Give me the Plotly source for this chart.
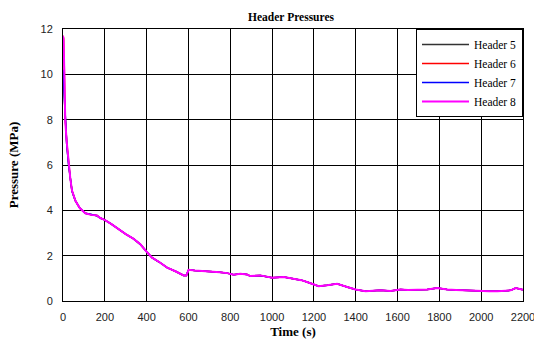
import plotly.graph_objects as go

# Time (s)
time_head = [0, 3, 6, 11, 18, 27, 35, 43, 59, 80, 107, 135, 163, 178, 199]
time_tail = [230, 274, 300, 338, 370, 402, 426, 460, 498, 540, 577, 590, 601, 630, 657,
             700, 750, 785, 816, 848, 880, 896, 944, 1000, 1056, 1103, 1140, 1167, 1200,
             1223, 1263, 1311, 1359, 1399, 1447, 1486, 1518, 1566, 1614, 1650, 1694, 1742,
             1790, 1837, 1880, 1917, 1960, 1997, 2040, 2077, 2110, 2141, 2165, 2185, 2200]

# Pressure (MPa) - early transient per header
head_5 = [10.1, 9.6, 8.9, 7.8, 6.9, 6.0, 5.4, 4.85, 4.43, 4.1, 3.87, 3.8, 3.76, 3.66, 3.58]
head_6 = [11.7, 11.6, 10.4, 8.0, 7.0, 6.1, 5.4, 4.87, 4.43, 4.1, 3.87, 3.8, 3.77, 3.66, 3.58]
head_7 = [10.2, 9.7, 8.9, 7.8, 6.9, 6.0, 5.4, 4.85, 4.43, 4.1, 3.87, 3.8, 3.76, 3.66, 3.58]
head_8 = [11.7, 11.5, 10.2, 7.9, 7.0, 6.05, 5.4, 4.87, 4.43, 4.1, 3.87, 3.8, 3.77, 3.66, 3.58]

# Pressure (MPa) - common long-term decay
tail = [3.4, 3.11, 2.95, 2.74, 2.5, 2.15, 1.91, 1.72, 1.47, 1.3, 1.13, 1.13, 1.38, 1.35, 1.32,
        1.3, 1.27, 1.23, 1.16, 1.2, 1.17, 1.1, 1.13, 1.03, 1.06, 0.98, 0.92, 0.84, 0.74,
        0.65, 0.69, 0.76, 0.62, 0.51, 0.43, 0.46, 0.47, 0.44, 0.51, 0.48, 0.5, 0.51,
        0.57, 0.51, 0.49, 0.47, 0.46, 0.44, 0.43, 0.43, 0.45, 0.47, 0.57, 0.52, 0.5]

names = ["Header 5", "Header 6", "Header 7", "Header 8"]
heads = [head_5, head_6, head_7, head_8]
colors = ["#333333", "#ff0000", "#0000ff", "#ff00ff"]
widths = [1.5, 1.5, 1.5, 2]

x_ticks = list(range(0, 2201, 200))
y_ticks = list(range(0, 13, 2))

SERIF = "Liberation Serif, Times New Roman"

fig = go.Figure()
t_all = time_head + time_tail
for name, head, color, w in zip(names, heads, colors, widths):
    fig.add_trace(go.Scatter(x=t_all, y=head + tail, mode="lines", name=name,
                             line=dict(color=color, width=w)))

axis_common = dict(showline=True, linecolor="black", linewidth=1, mirror=True,
                   showgrid=True, gridcolor="black", gridwidth=1, zeroline=False,
                   ticks="", ticklabeloverflow="allow",
                   tickfont=dict(family="Liberation Sans, Arial", size=11, color="#222"))

fig.update_layout(
    width=534, height=339,
    margin=dict(l=63, r=11, t=29, b=38),
    paper_bgcolor="white", plot_bgcolor="white",
    title=dict(text="<b>Header Pressures</b>", x=0.545, xanchor="center", y=0.95, yanchor="middle",
               font=dict(family=SERIF, size=11.5, color="black")),
    xaxis=dict(range=[0, 2200], tickvals=x_ticks, ticktext=[str(v) for v in x_ticks],
               ticklabelstandoff=6,
               title=dict(text="<b>Time (s)</b>", standoff=9,
                          font=dict(family=SERIF, size=13, color="black")),
               **axis_common),
    yaxis=dict(range=[0, 12], tickvals=y_ticks, ticktext=[str(v) for v in y_ticks],
               ticklabelstandoff=7,
               title=dict(text="<b>Pressure (MPa)</b>", standoff=18,
                          font=dict(family=SERIF, size=13, color="black")),
               **axis_common),
    legend=dict(x=1, xanchor="right", y=1, yanchor="top", bgcolor="white",
                bordercolor="black", borderwidth=1, itemwidth=47, tracegroupgap=0,
                font=dict(family=SERIF, size=11.5, color="black")),
    showlegend=True,
)
fig.update_xaxes(automargin=False)
fig.update_yaxes(automargin=False)

fig.write_html("out.html")
